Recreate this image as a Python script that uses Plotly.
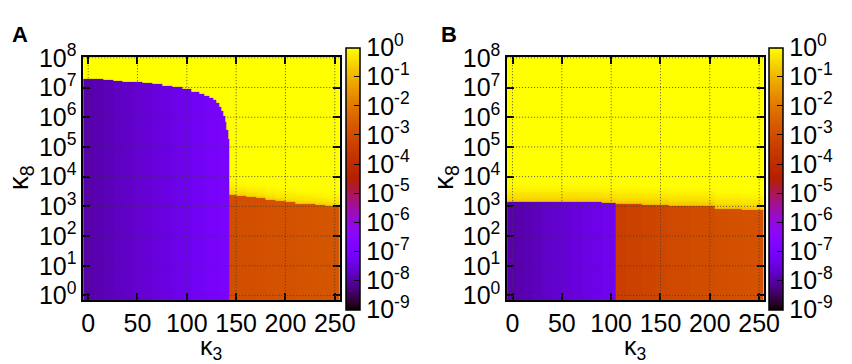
import numpy as np
import plotly.graph_objects as go

# ---------------- data ----------------
X_TICKS = [0, 50, 100, 150, 200, 250]
Y_TICKS = [0, 1, 2, 3, 4, 5, 6, 7, 8]            # log10(kappa_8)
CB_TICKS = [-9, -8, -7, -6, -5, -4, -3, -2, -1, 0]  # log10(value)

# Panel A: columns along kappa_3 (edges), boundary height (log10 kappa_8) of the
# lower region in each column, and log10 value of that lower region.
A_k3_edges = [-6, 5, 15, 25, 35, 45, 55, 65, 75, 85, 95, 105, 112.5, 117.5, 122.5,
              126.5, 129.5, 132.5, 135, 137, 138.8, 140.2, 141.5, 142.6,
              150, 160, 170, 180, 190, 200, 210, 220, 230, 240, 256]
A_top = [7.30, 7.28, 7.26, 7.23, 7.20, 7.18, 7.15, 7.11, 7.06, 7.01, 6.94, 6.86,
         6.79, 6.72, 6.64, 6.57, 6.47, 6.35, 6.22, 6.05, 5.85, 5.55, 5.25,
         3.39, 3.36, 3.31, 3.27, 3.22, 3.18, 3.14, 3.10, 3.07, 3.05, 3.02]
A_low = [-7.95, -7.90, -7.84, -7.78, -7.71, -7.64, -7.57, -7.50, -7.43, -7.36,
         -7.28, -7.20, -7.15, -7.10, -7.05, -7.02, -7.00, -6.97, -6.95, -6.93,
         -6.92, -6.91, -6.90,
         -2.95, -2.92, -2.90, -2.88, -2.86, -2.84, -2.82, -2.80, -2.78, -2.76, -2.75]
A_fade = [0] * 23 + [1] * 11

# Panel B
B_k3_edges = [-6, 10, 20, 30, 40, 50, 60, 70, 80, 90, 98, 104.5,
              115, 131, 145, 158, 180, 205, 220, 232, 256]
B_top = [3.13, 3.13, 3.13, 3.13, 3.13, 3.13, 3.13, 3.13, 3.13, 3.12, 3.11,
         3.08, 3.08, 3.05, 3.05, 3.01, 3.01, 2.92, 2.92, 2.87]
B_low = [-7.95, -7.88, -7.80, -7.72, -7.65, -7.57, -7.50, -7.42, -7.35, -7.27, -7.20,
         -3.40, -3.30, -3.20, -3.12, -3.05, -2.98, -2.92, -2.88, -2.85]
B_fade = [1] * 20

# log10 value in successive thin bands just above the boundary (yellow fade)
FADE_A = [-0.55, -0.42, -0.32, -0.24, -0.17, -0.11, -0.07, -0.04, -0.02]
FADE_B = [-0.70, -0.58, -0.48, -0.39, -0.31, -0.24, -0.18, -0.13, -0.09, -0.05, -0.02]
FADE_STEP = 0.06

# ---------------- styling / construction ----------------
FONT = "Liberation Sans, Arial, Helvetica, sans-serif"
W, H = 852, 364
Y_RANGE = [-0.16, 8.03]
XA_RANGE = [-5, 255]
XB_RANGE = [-5.5, 254.5]
TICK_SIZE = 25

def palette(t):
    r = np.sqrt(t)
    g = t ** 3
    b = np.clip(np.sin(2 * np.pi * t), 0, 1)
    return "rgb(%d,%d,%d)" % (round(255 * r), round(255 * g), round(255 * b))

colorscale = [[float(t), palette(t)] for t in np.linspace(0, 1, 61)]

y_step = 0.02
y_edges = np.arange(-0.2, 8.1 + y_step / 2, y_step)
y_cent = (y_edges[:-1] + y_edges[1:]) / 2

def build(top, low, fade_on, fade):
    z = np.zeros((len(y_cent), len(top)))
    for j, (t, l, f) in enumerate(zip(top, low, fade_on)):
        for i, y in enumerate(y_cent):
            if y < t:
                z[i, j] = l
            else:
                d = int((y - t) / FADE_STEP)
                z[i, j] = fade[d] if (f and d < len(fade)) else 0.0
    return z

zA = build(A_top, A_low, A_fade, FADE_A)
zB = build(B_top, B_low, B_fade, FADE_B)

plot_top, plot_bot = 43, 305
ydom = [1 - plot_bot / H, 1 - plot_top / H]
xdomA = [83 / W, 345 / W]
xdomB = [516 / W, 778 / W]

cb_common = dict(
    tickvals=CB_TICKS,
    ticktext=["10<sup>%d</sup>" % k for k in CB_TICKS],
    ticks="inside", ticklen=6, tickwidth=1.2, tickcolor="black",
    outlinecolor="black", outlinewidth=1.5,
    thickness=14, thicknessmode="pixels",
    len=plot_bot - plot_top, lenmode="pixels",
    y=(ydom[0] + ydom[1]) / 2, yanchor="middle",
    xanchor="left", xpad=0, ypad=0,
    tickfont=dict(family=FONT, size=TICK_SIZE, color="black"),
)

fig = go.Figure()
fig.add_trace(go.Heatmap(
    x=A_k3_edges, y=y_edges, z=zA, zmin=-9, zmax=0, colorscale=colorscale,
    xaxis="x", yaxis="y", hoverinfo="skip",
    colorbar=dict(x=351 / W, **cb_common)))
fig.add_trace(go.Heatmap(
    x=B_k3_edges, y=y_edges, z=zB, zmin=-9, zmax=0, colorscale=colorscale,
    xaxis="x2", yaxis="y2", hoverinfo="skip",
    colorbar=dict(x=784 / W, **cb_common)))

ax_common = dict(
    showline=True, linecolor="black", linewidth=1.5, mirror="ticks",
    ticks="inside", ticklen=7, tickwidth=1.5, tickcolor="black",
    showgrid=False, zeroline=False, layer="above traces",
    tickfont=dict(family=FONT, size=TICK_SIZE, color="black"),
)
yt = dict(tickvals=Y_TICKS, ticktext=["10<sup>%d</sup>" % k for k in Y_TICKS],
          range=Y_RANGE, domain=ydom)
fig.update_layout(
    width=W, height=H, margin=dict(l=0, r=0, t=0, b=0),
    paper_bgcolor="white", plot_bgcolor="white", showlegend=False,
    xaxis=dict(domain=xdomA, range=XA_RANGE, tickvals=X_TICKS, anchor="y", **ax_common),
    yaxis=dict(anchor="x", **yt, **ax_common),
    xaxis2=dict(domain=xdomB, range=XB_RANGE, tickvals=X_TICKS, anchor="y2", **ax_common),
    yaxis2=dict(anchor="x2", **yt, **ax_common),
)

# dotted grid drawn above the image
GRID = dict(color="rgba(60,60,60,0.85)", width=1, dash="1px,2px")
shapes = []
for xr, yr, rng in (("x", "y", XA_RANGE), ("x2", "y2", XB_RANGE)):
    for xv in X_TICKS:
        shapes.append(dict(type="line", xref=xr, yref=yr, x0=xv, x1=xv,
                           y0=Y_RANGE[0], y1=Y_RANGE[1], layer="above", line=GRID))
    for yv in Y_TICKS:
        shapes.append(dict(type="line", xref=xr, yref=yr, x0=rng[0], x1=rng[1],
                           y0=yv, y1=yv, layer="above", line=GRID))
fig.update_layout(shapes=shapes)

def ann(text, px, py, size, bold=False, angle=0):
    return dict(text=("<b>%s</b>" % text) if bold else text,
                x=px / W, y=1 - py / H, xref="paper", yref="paper",
                xanchor="center", yanchor="middle", showarrow=False,
                textangle=angle, font=dict(family=FONT, size=size, color="black"))

fig.update_layout(annotations=[
    ann("A", 18, 19, 22, bold=True),
    ann("B", 457, 19, 22, bold=True),
    ann("κ<sub>8</sub>", 19, 173, 28, angle=-90),
    ann("κ<sub>8</sub>", 453, 173, 28, angle=-90),
    ann("κ<sub>3</sub>", 214, 356, 25),
    ann("κ<sub>3</sub>", 647, 356, 25),
])

fig.write_html("out.html")
